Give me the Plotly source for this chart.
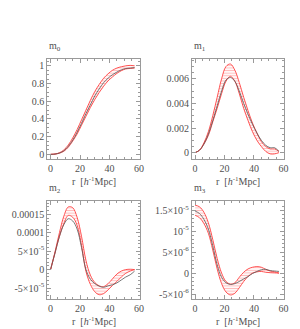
import plotly.graph_objects as go

W, H = 300, 329

r = [0, 3, 6, 9, 12, 15, 18, 21, 24, 27, 30, 33, 36, 39, 42, 45, 48, 51, 54, 57]

m0_gray = [0, 0.003, 0.015, 0.04, 0.09, 0.16, 0.25, 0.35, 0.46, 0.56, 0.66, 0.74, 0.81, 0.86, 0.90, 0.93, 0.955, 0.97, 0.975, 0.98]
m0_hi = [0, 0.004, 0.018, 0.05, 0.105, 0.185, 0.28, 0.39, 0.50, 0.61, 0.71, 0.79, 0.86, 0.91, 0.95, 0.975, 0.99, 1.0, 1.005, 1.0]
m0_lo = [0, 0.003, 0.013, 0.035, 0.08, 0.15, 0.23, 0.33, 0.43, 0.53, 0.62, 0.70, 0.77, 0.83, 0.875, 0.915, 0.945, 0.965, 0.97, 0.975]

m1_gray = [0, 0.0002, 0.0007, 0.0015, 0.0026, 0.0038, 0.0050, 0.0059, 0.0061, 0.0058, 0.0050, 0.0040, 0.0031, 0.0023, 0.0016, 0.0010, 0.0006, 0.0004, 0.0004, 0.0001]
m1_hi = [0, 0.0002, 0.0008, 0.0017, 0.0030, 0.0045, 0.0060, 0.0070, 0.0072, 0.0067, 0.0057, 0.0045, 0.0034, 0.0024, 0.0016, 0.0009, 0.0005, 0.0003, 0.0003, 0.0001]
m1_lo = [0, 0.0002, 0.0007, 0.0014, 0.0025, 0.0036, 0.0048, 0.0058, 0.0062, 0.0058, 0.0048, 0.0036, 0.0026, 0.0017, 0.0010, 0.0005, 0.0001, -0.0001, -0.0001, 0]

m2_gray = [0, 4.5e-5, 9e-5, 1.22e-4, 1.38e-4, 1.32e-4, 1.1e-4, 6e-5, 0, -2.6e-5, -3.8e-5, -4.5e-5, -4.8e-5, -4.4e-5, -4.1e-5, -3.6e-5, -2.8e-5, -2.0e-5, -1.4e-5, -4e-6]
m2_hi = [0, 4.8e-5, 1.0e-4, 1.45e-4, 1.70e-4, 1.68e-4, 1.42e-4, 9.0e-5, 2.5e-5, -1.5e-5, -3.5e-5, -4.4e-5, -4.6e-5, -3.8e-5, -2.5e-5, -1.2e-5, -4e-6, 0, 1e-6, 0]
m2_lo = [0, 4.5e-5, 9e-5, 1.25e-4, 1.47e-4, 1.42e-4, 1.2e-4, 6.5e-5, -5e-6, -4e-5, -6e-5, -6.8e-5, -6.5e-5, -5.5e-5, -4.3e-5, -3.2e-5, -2e-5, -1e-5, -4e-6, 0]

m3_gray = [1.48e-5, 1.42e-5, 1.28e-5, 1.05e-5, 6.5e-6, 2e-6, -1e-6, -2.3e-6, -2.7e-6, -2.5e-6, -2e-6, -1.4e-6, -0.8e-6, -0.1e-6, 0.4e-6, 0.8e-6, 0.9e-6, 0.6e-6, 0.5e-6, 0.4e-6]
m3_hi = [1.62e-5, 1.58e-5, 1.45e-5, 1.2e-5, 8e-6, 3.5e-6, 0, -2e-6, -2.6e-6, -2.3e-6, -1e-6, 0.2e-6, 1e-6, 1.4e-6, 1.55e-6, 1.4e-6, 0.9e-6, 0.5e-6, 0.3e-6, 0]
m3_lo = [1.38e-5, 1.32e-5, 1.18e-5, 9.5e-6, 5.5e-6, 1e-6, -2.5e-6, -4.5e-6, -5.2e-6, -4.8e-6, -3.5e-6, -2e-6, -0.8e-6, 0, 0.3e-6, 0.4e-6, 0.2e-6, 0.1e-6, 0.05e-6, 0]

titles = ["m<sub>0</sub>", "m<sub>1</sub>", "m<sub>2</sub>", "m<sub>3</sub>"]
xlabel = "r  [<i>h</i><sup>-1</sup>Mpc]"

y_tickvals = [
    [0, 0.2, 0.4, 0.6, 0.8, 1],
    [0, 0.002, 0.004, 0.006],
    [-5e-5, 0, 5e-5, 1e-4, 1.5e-4],
    [-5e-6, 0, 5e-6, 1e-5, 1.5e-5],
]
y_ticktext = [
    ["0", "0.2", "0.4", "0.6", "0.8", "1"],
    ["0", "0.002", "0.004", "0.006"],
    ["-5×10<sup>-5</sup>", "0", "5×10<sup>-5</sup>", "0.0001", "0.00015"],
    ["-5×10<sup>-6</sup>", "0", "5×10<sup>-6</sup>", "10<sup>-5</sup>", "1.5×10<sup>-5</sup>"],
]
x_tickvals = [0, 20, 40, 60]

panels = [
    (m0_gray, m0_hi, m0_lo),
    (m1_gray, m1_hi, m1_lo),
    (m2_gray, m2_hi, m2_lo),
    (m3_gray, m3_hi, m3_lo),
]

# pixel boxes: (left, right, top, bottom)
boxes = [(40, 134, 51, 151.5), (187, 280.5, 51, 151.5), (40, 134, 194, 292), (187, 280.5, 194, 292)]
x_ranges = [[-2.2, 60.5], [-2.2, 60.3], [-2.2, 60.5], [-2.2, 60.3]]
y_ranges = [[-0.053, 1.079], [-0.00052, 0.00762], [-8.0e-5, 1.85e-4], [-6.2e-6, 1.71e-5]]
y_minor = [0.05, 0.0005, 1e-5, 1e-6]

RED = "#ff4040"
HATCH = "#ff7a7a"
GRAY = "#555555"
AX = "#9a9a9a"
TXT = "#505050"
FONT = "Liberation Serif"
TICKSIZE = 10

fig = go.Figure()
for i, (g, hi, lo) in enumerate(panels):
    xa = "x" if i == 0 else f"x{i+1}"
    ya = "y" if i == 0 else f"y{i+1}"
    fig.add_trace(go.Scatter(x=r, y=lo, mode="lines", line=dict(color=RED, width=0.9, shape="spline"),
                             xaxis=xa, yaxis=ya, showlegend=False))
    fig.add_trace(go.Scatter(x=r, y=hi, mode="lines", line=dict(color=RED, width=0.9, shape="spline"),
                             fill="tonexty", fillcolor="rgba(255,255,255,0)",
                             fillpattern=dict(shape="-", fgcolor=HATCH, bgcolor="rgba(255,255,255,0)",
                                              size=2.6, solidity=0.4),
                             xaxis=xa, yaxis=ya, showlegend=False))
    fig.add_trace(go.Scatter(x=r, y=g, mode="lines", line=dict(color=GRAY, width=0.8, shape="spline"),
                             xaxis=xa, yaxis=ya, showlegend=False))

layout = {}
annotations = []
for i in range(4):
    l, rr, t, b = boxes[i]
    xk = "xaxis" if i == 0 else f"xaxis{i+1}"
    yk = "yaxis" if i == 0 else f"yaxis{i+1}"
    xa = "x" if i == 0 else f"x{i+1}"
    ya = "y" if i == 0 else f"y{i+1}"
    layout[xk] = dict(domain=[l / W, rr / W], range=x_ranges[i], anchor=ya,
                      tickvals=x_tickvals, ticks="inside", ticklen=4, tickcolor=AX,
                      showline=True, linecolor=AX, linewidth=1, mirror="ticks",
                      showgrid=False, zeroline=False,
                      tickfont=dict(family=FONT, size=TICKSIZE, color=TXT),
                      minor=dict(dtick=5, tick0=0, ticks="inside", ticklen=2, tickcolor=AX))
    layout[yk] = dict(domain=[(H - b) / H, (H - t) / H], range=y_ranges[i], anchor=xa,
                      tickvals=y_tickvals[i], ticktext=y_ticktext[i],
                      ticks="inside", ticklen=4, tickcolor=AX,
                      showline=True, linecolor=AX, linewidth=1, mirror="ticks",
                      showgrid=False, zeroline=False,
                      tickfont=dict(family=FONT, size=TICKSIZE, color=TXT),
                      minor=dict(dtick=y_minor[i], tick0=0, ticks="inside", ticklen=2, tickcolor=AX))
    annotations.append(dict(text=titles[i], x=l / W, y=(H - t + 4) / H, xref="paper", yref="paper",
                            xanchor="left", yanchor="bottom", showarrow=False,
                            font=dict(family=FONT, size=10, color=TXT)))
    annotations.append(dict(text=xlabel, x=(l + rr) / 2 / W, y=(H - b - 14) / H, xref="paper", yref="paper",
                            xanchor="center", yanchor="top", showarrow=False,
                            font=dict(family=FONT, size=10, color=TXT)))

fig.update_layout(width=W, height=H, margin=dict(l=0, r=0, t=0, b=0),
                  paper_bgcolor="white", plot_bgcolor="white",
                  annotations=annotations, **layout)

fig.write_html("out.html")
